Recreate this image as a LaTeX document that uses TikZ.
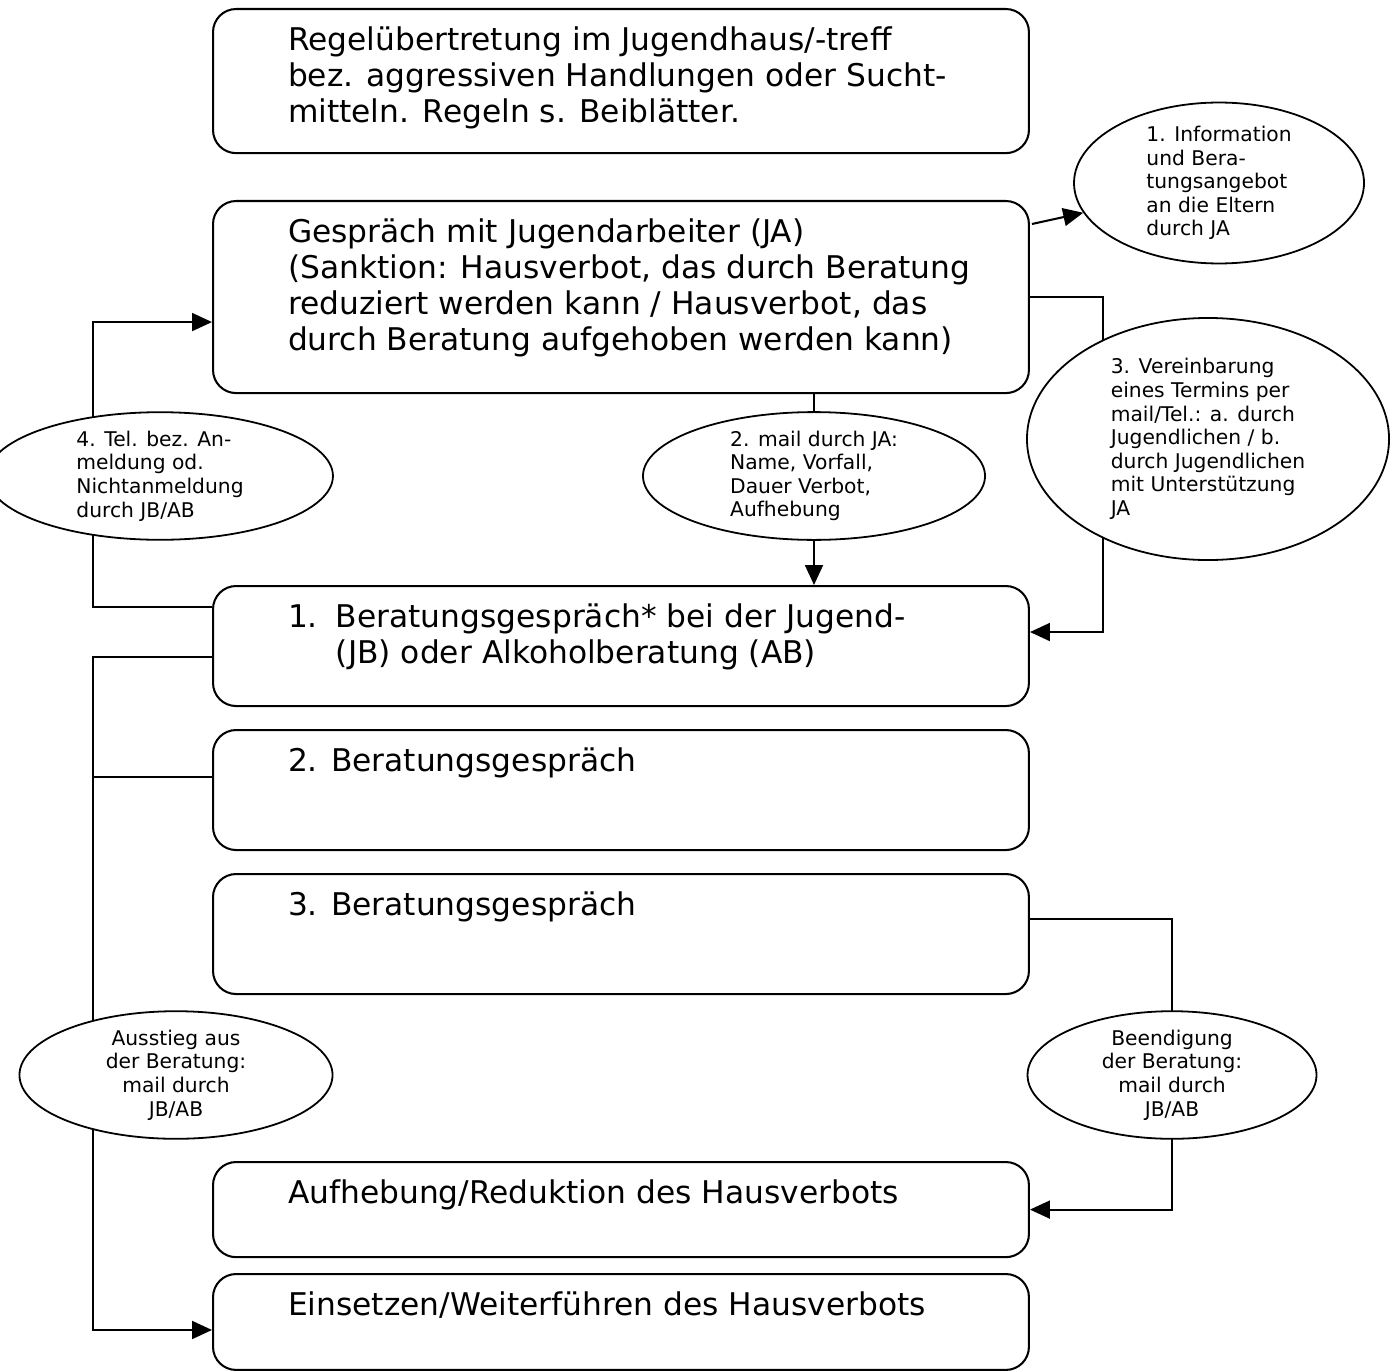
\documentclass[tikz,border=0pt]{standalone}
\usepackage{fontspec}
\setmainfont{DejaVu Sans}
\usetikzlibrary{arrows.meta, shapes.geometric, backgrounds}

\newcommand\stagetext[2]{\parbox[c][#1][t]{259.7pt}{\hfuzz = 50pt #2}}

\tikzset{
	stage/.style = {draw, line width = 0.8pt, rounded corners = 9pt, anchor = north west,
		inner xsep = 29.25pt, inner ysep = 6.9pt, font = \fontsize{12.2}{14}\selectfont},
	remark/.style = {draw, ellipse, fill = white, line width = 0.7pt, inner sep = 0pt,
		font = \fontsize{7.9}{9.2}\selectfont},
	flow/.style = {line width = 0.8pt}
}

\begin{document}
\begin{tikzpicture}[x = 0.39pt, y = -0.39pt, > = {Triangle[length = 7.8pt, width = 7pt]}]

	\useasboundingbox (0, 0) rectangle (1391, 1371);

	% Stages of the procedure

	\node [stage] (rule) at (212, 8) {\stagetext{42.4pt}{Regelübertretung im Jugendhaus/-treff\\
		bez. aggressiven Handlungen oder Sucht-\\ mitteln. Regeln s. Beiblätter.}};
	\node [stage] (talk) at (212, 200) {\stagetext{61.1pt}{Gespräch mit Jugendarbeiter (JA)\\
		\mbox{(Sanktion: Hausverbot, das durch Beratung}\\ reduziert werden kann / Hausverbot, das\\
		durch Beratung aufgehoben werden kann)}};
	\node [stage] (first) at (212, 585) {\stagetext{33pt}{\hangindent = 18.7pt \hangafter = 1
		\makebox[18.7pt][l]{1.}Beratungsgespräch* bei der Jugend-\\ (JB) oder Alkoholberatung (AB)}};
	\node [stage] (second) at (212, 729) {\stagetext{33pt}{2. Beratungsgespräch}};
	\node [stage] (third) at (212, 873) {\stagetext{33pt}{3. Beratungsgespräch}};
	\node [stage] (lift) at (212, 1161) {\stagetext{23.3pt}{Aufhebung/Reduktion des Hausverbots}};
	\node [stage] (ban) at (212, 1273) {\stagetext{23.6pt}{Einsetzen/Weiterführen des Hausverbots}};

	% Notes on the connectors

	\node [remark, align = left, minimum width = 113.1pt, minimum height = 61.2pt] (parents) at (1219, 183)
		{1. Information\\ und Bera-\\ tungsangebot\\ an die Eltern\\ durch JA};
	\node [remark, align = left, minimum width = 141.2pt, minimum height = 94.4pt] (appoint) at (1208, 439)
		{3. Vereinbarung\\ eines Termins per\\ mail/Tel.: a. durch\\ Jugendlichen / b.\\
		durch Jugendlichen\\ mit Unterstützung\\ JA};
	\node [remark, align = left, minimum width = 133.4pt, minimum height = 46pt] (mail) at (814, 476)
		{2. mail durch JA:\\ Name, Vorfall,\\ Dauer Verbot,\\ Aufhebung};
	\node [remark, align = left, minimum width = 134.9pt, minimum height = 45.6pt] (phone) at (160, 476)
		{4. Tel. bez. An-\\ meldung od.\\ Nichtanmeldung\\ durch JB/AB};
	\node [remark, align = center, minimum width = 122.1pt, minimum height = 46.8pt] (dropout) at (176, 1075)
		{Ausstieg aus\\ der Beratung:\\ mail durch\\ JB/AB};
	\node [remark, align = center, minimum width = 112.7pt, minimum height = 46pt] (finish) at (1172, 1075)
		{Beendigung\\ der Beratung:\\ mail durch\\ JB/AB};

	% Connectors

	\begin{scope}[on background layer]

		\draw [flow, ->] ([shift = {(2, 24)}] talk.north east) -- (parents);
		\draw [flow, ->] (talk.south -| mail) -- (first.north -| mail);
		\draw [flow, ->] (talk.east) -- ++(73, 0) |- ([shift = {(0, -14)}] first.east);
		\draw [flow, ->] ([shift = {(0, 22)}] first.north west) -- ++(-119, 0) |- ([shift = {(0, 25)}] talk.west);
		\draw [flow, ->] ([shift = {(0, 11)}] first.west) -- ++(-119, 0) |- ([shift = {(0, 8)}] ban.west);
		\draw [flow] ([shift = {(0, -13)}] second.west) -- ++(-119, 0);
		\draw [flow, ->] ([shift = {(0, -15)}] third.east) -| (lift.east -| finish) -- (lift.east);

	\end{scope}

\end{tikzpicture}
\end{document}
